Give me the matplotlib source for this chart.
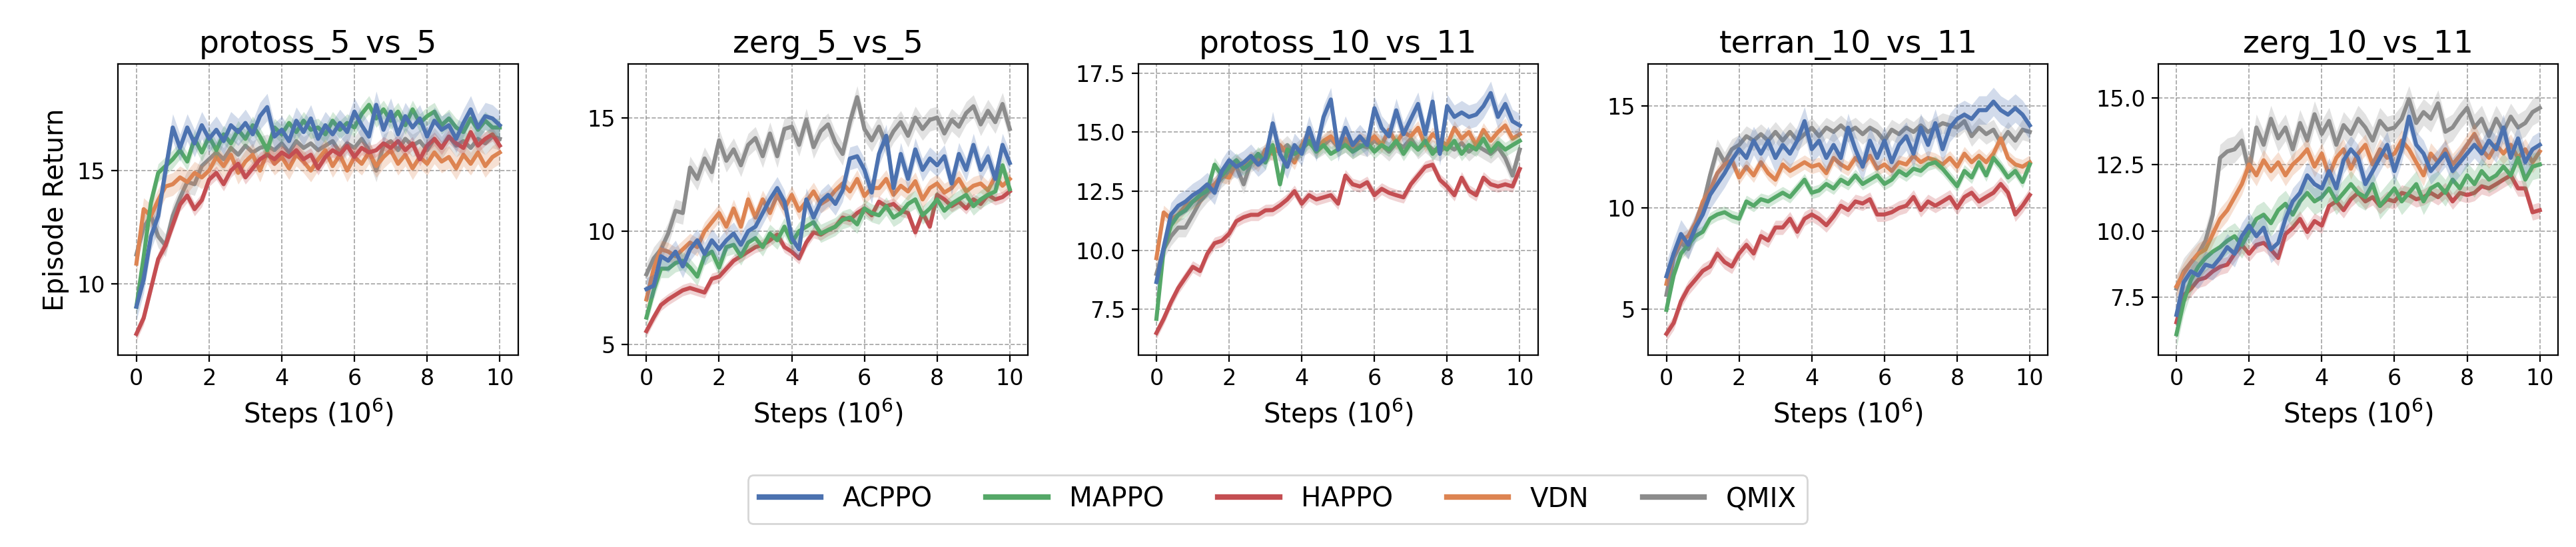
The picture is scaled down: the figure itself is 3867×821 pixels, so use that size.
import matplotlib
matplotlib.use("Agg")
import matplotlib.pyplot as plt
import numpy as np

# steps in units of 1e6, one value every 0.2M
steps = np.linspace(0, 10, 51)

methods = ["ACPPO", "MAPPO", "HAPPO", "VDN", "QMIX"]
colors = ["#4c72b0", "#55a868", "#c44e52", "#dd8452", "#8c8c8c"]
maps = ["protoss_5_vs_5", "zerg_5_vs_5", "protoss_10_vs_11", "terran_10_vs_11", "zerg_10_vs_11"]

# ---- protoss_5_vs_5 ----
p55_acppo = [9.0, 10.2, 12.1, 13.0, 15.0, 16.9, 16.0, 16.9, 16.2, 17.0, 16.4, 16.8, 16.3, 17.0, 16.7, 17.1,
             16.6, 17.4, 17.8, 16.5, 16.8, 16.3, 17.2, 16.7, 17.3, 16.4, 17.0, 16.6, 17.1, 16.7, 17.6, 17.0,
             16.5, 17.9, 16.8, 17.6, 16.6, 17.4, 16.9, 17.3, 16.5, 17.2, 16.8, 17.0, 16.4, 17.1, 17.7, 16.9,
             17.4, 17.3, 17.0]
p55_mappo = [9.0, 11.2, 13.6, 14.9, 15.2, 15.5, 15.9, 15.4, 16.4, 15.8, 16.5, 15.9, 16.6, 16.2, 16.8, 16.4,
             17.0, 16.5, 15.9, 16.9, 16.6, 17.1, 16.7, 17.2, 16.8, 16.9, 16.6, 17.2, 16.8, 17.1, 16.9, 17.5,
             17.9, 17.3, 17.7, 17.2, 17.6, 17.0, 17.7, 17.1, 17.4, 17.6, 17.0, 17.3, 16.9, 16.7, 17.3, 16.8,
             17.2, 16.9, 16.9]
p55_happo = [7.8, 8.5, 9.8, 11.1, 11.7, 12.6, 13.5, 13.9, 13.3, 13.7, 14.6, 14.9, 14.4, 15.0, 15.3, 14.7,
             15.1, 15.5, 15.7, 15.5, 15.8, 15.6, 15.9, 15.5, 15.7, 15.1, 15.6, 15.9, 15.7, 16.1, 15.6, 16.0,
             15.8, 15.9, 16.2, 16.0, 16.3, 15.9, 16.2, 15.5, 16.1, 16.4, 16.0, 16.5, 16.2, 16.0, 16.7, 16.1,
             16.4, 16.6, 16.1]
p55_vdn = [10.9, 13.3, 13.0, 13.7, 14.3, 14.4, 14.7, 14.5, 14.9, 14.7, 15.0, 15.6, 15.2, 15.7, 14.9, 15.4,
           15.7, 15.0, 15.8, 15.3, 15.6, 15.1, 15.7, 15.4, 15.0, 15.5, 15.9, 15.2, 15.7, 15.0, 15.6, 15.3,
           15.8, 15.2, 15.6, 15.9, 15.3, 15.7, 15.1, 15.6, 15.3, 15.8, 15.4, 15.6, 15.1, 15.7, 15.3, 15.8,
           15.2, 15.6, 15.8]
p55_qmix = [11.3, 12.5, 13.0, 12.1, 11.7, 13.0, 13.8, 14.5, 14.4, 15.2, 15.5, 15.8, 15.5, 16.0, 15.7, 16.1,
            15.8, 16.0, 16.1, 15.9, 16.2, 15.8, 16.3, 16.0, 16.2, 15.9, 16.1, 16.3, 15.8, 16.2, 16.0, 16.4,
            15.9, 15.0, 16.1, 16.3, 15.9, 16.4, 16.1, 16.3, 15.9, 16.4, 16.0, 16.5, 16.1, 16.3, 16.0, 16.4,
            16.2, 16.5, 16.4]

# ---- zerg_5_vs_5 ----
z55_acppo = [7.45, 7.6, 8.9, 8.7, 9.1, 8.45, 9.2, 9.6, 9.0, 9.6, 9.2, 9.6, 9.9, 9.4, 10.0, 10.2,
             10.8, 11.4, 11.9, 11.3, 9.7, 9.2, 11.4, 10.6, 11.3, 11.6, 11.2, 11.8, 13.2, 13.3, 12.7, 11.7,
             13.4, 14.2, 11.9, 13.4, 12.3, 13.6, 12.7, 13.2, 12.9, 13.3, 12.1, 13.4, 12.7, 13.8, 12.7, 13.3,
             12.3, 13.8, 13.0]
z55_mappo = [6.2, 7.4, 8.35, 8.35, 8.6, 8.7, 8.4, 8.0, 8.9, 9.1, 8.4, 9.3, 9.4, 8.9, 9.5, 9.7,
             9.3, 9.9, 9.6, 10.2, 9.5, 10.0, 10.2, 10.4, 9.9, 10.05, 10.2, 10.5, 10.6, 10.3, 11.0, 10.8,
             10.7, 11.1, 10.6, 10.8, 11.2, 11.4, 10.7, 11.0, 11.4, 10.9, 11.2, 11.4, 11.6, 11.1, 11.4, 11.6,
             11.75, 12.9, 11.85]
z55_happo = [5.6, 6.2, 6.75, 7.0, 7.2, 7.4, 7.5, 7.4, 7.3, 7.9, 8.0, 8.35, 8.7, 8.9, 9.1, 9.3,
             9.4, 9.6, 9.85, 9.3, 9.1, 8.8, 9.5, 9.95, 9.85, 10.05, 10.2, 10.6, 10.5, 10.8, 11.0, 10.7,
             11.3, 11.1, 11.2, 10.9, 10.8, 9.95, 10.8, 10.2, 11.6, 11.4, 11.1, 11.3, 11.0, 11.4, 11.2, 11.6,
             11.4, 11.5, 11.75]
z55_vdn = [7.0, 8.35, 9.2, 9.1, 8.9, 9.2, 9.5, 9.3, 10.0, 10.4, 10.8, 10.2, 11.0, 10.2, 11.4, 10.6,
           11.4, 10.8, 11.6, 11.0, 11.6, 10.9, 11.3, 11.75, 11.2, 11.4, 11.8, 12.1, 11.75, 12.3, 11.55, 11.9,
           11.9, 12.3, 11.6, 12.0, 11.75, 12.2, 11.4, 11.9, 12.1, 11.7, 11.9, 12.3, 11.75, 12.0, 12.1, 11.8,
           12.4, 12.0, 12.3]
z55_qmix = [8.1, 8.8, 9.2, 9.9, 10.9, 10.8, 12.8, 12.3, 13.2, 12.6, 14.0, 13.1, 13.6, 12.9, 13.8, 14.1,
            13.3, 14.3, 13.3, 14.5, 14.6, 13.8, 14.9, 13.7, 14.4, 14.7, 13.9, 13.4, 14.8, 15.9, 14.5, 14.0,
            14.6, 13.8, 14.4, 14.8, 14.2, 15.0, 14.5, 14.9, 15.0, 14.3, 14.9, 14.6, 15.2, 15.5, 14.7, 15.3,
            14.8, 15.6, 14.5]

# ---- protoss_10_vs_11 ----
p1011_acppo = [8.66, 10.13, 11.51, 11.88, 12.06, 12.33, 12.52, 12.79, 12.43, 13.35, 13.81, 13.53, 13.71, 13.99,
               13.62, 13.90, 15.37, 14.08, 13.53, 14.45, 14.08, 15.18, 14.26, 15.64, 16.38, 14.26, 15.18, 14.45,
               14.82, 14.45, 16.01, 15.18, 14.82, 15.92, 14.91, 15.55, 16.19, 14.91, 16.29, 14.08, 16.10, 15.64,
               15.83, 15.64, 15.74, 16.10, 16.65, 15.64, 16.19, 15.46, 15.28]
p1011_mappo = [7.1, 10.04, 11.05, 11.5, 11.69, 12.06, 12.33, 12.52, 13.62, 13.16, 13.53, 13.81, 13.44, 13.71,
               14.08, 13.71, 14.45, 12.79, 14.26, 14.08, 14.26, 14.63, 14.17, 14.45, 14.08, 14.26, 14.45, 14.17,
               14.36, 14.54, 14.17, 14.45, 14.26, 14.63, 14.08, 14.54, 14.26, 14.63, 14.08, 14.45, 14.26, 14.63,
               14.08, 14.45, 14.26, 14.72, 14.17, 14.54, 14.26, 14.45, 14.63]
p1011_happo = [6.5, 7.1, 7.8, 8.4, 8.85, 9.3, 9.12, 9.85, 10.3, 10.4, 10.7, 11.23, 11.4, 11.5, 11.5, 11.69,
               11.7, 11.9, 12.15, 12.5, 11.97, 12.33, 12.15, 12.24, 12.33, 11.97, 13.16, 12.79, 12.7, 12.88,
               12.33, 12.6, 12.43, 12.33, 12.24, 12.79, 13.16, 13.53, 13.62, 12.98, 12.7, 12.33, 13.07, 12.52,
               12.33, 13.07, 12.79, 12.7, 12.79, 12.7, 13.44]
p1011_vdn = [9.67, 11.6, 11.32, 11.5, 11.88, 12.06, 12.24, 12.6, 12.79, 13.16, 13.07, 13.71, 13.53, 13.9,
             13.62, 14.26, 14.08, 14.45, 14.08, 13.71, 14.45, 14.91, 14.26, 14.63, 14.82, 14.45, 14.72, 14.36,
             14.72, 14.54, 14.82, 14.45, 15.09, 14.54, 15.0, 14.82, 15.18, 14.45, 14.91, 14.63, 14.45, 15.18,
             14.72, 15.0, 14.45, 15.09, 14.63, 15.0, 15.28, 14.72, 14.91]
p1011_qmix = [9.0, 10.04, 10.59, 10.96, 10.96, 11.5, 12.06, 12.43, 12.7, 13.07, 13.35, 13.53, 12.79, 13.71,
              13.9, 14.08, 14.26, 14.17, 14.45, 14.08, 14.36, 14.54, 14.26, 14.45, 14.72, 14.36, 14.54, 14.26,
              14.45, 14.36, 14.63, 14.45, 14.17, 14.54, 14.36, 14.72, 14.26, 14.54, 14.26, 14.17, 14.45, 14.26,
              14.54, 14.17, 14.45, 14.26, 14.08, 14.36, 13.9, 13.16, 14.26]

# ---- terran_10_vs_11 ----
t1011_acppo = [6.62, 7.74, 8.70, 8.17, 9.02, 9.66, 10.62, 11.16, 11.69, 12.33, 12.87, 12.44, 13.29, 12.65,
               13.29, 12.44, 13.08, 12.65, 13.29, 14.25, 12.87, 13.29, 12.44, 13.08, 12.44, 13.93, 12.87, 12.01,
               13.29, 12.44, 13.29, 12.23, 13.08, 13.51, 12.65, 13.93, 13.08, 14.15, 12.87, 13.93, 14.36, 14.57,
               14.36, 14.79, 14.79, 15.21, 14.79, 14.57, 14.89, 14.57, 14.04]
t1011_mappo = [4.97, 6.68, 7.74, 8.17, 8.60, 8.81, 9.45, 9.66, 9.77, 9.56, 9.45, 10.30, 10.09, 10.41, 10.30,
               10.52, 10.73, 10.52, 10.94, 11.37, 10.73, 10.84, 11.16, 10.94, 11.37, 11.16, 11.58, 11.16, 11.37,
               11.58, 11.16, 11.37, 11.80, 11.58, 11.91, 11.80, 12.12, 12.23, 11.91, 11.48, 11.05, 11.80, 11.48,
               12.23, 11.58, 12.44, 12.01, 11.48, 11.80, 11.26, 12.12]
t1011_happo = [3.79, 4.33, 5.39, 6.04, 6.46, 6.89, 7.10, 7.74, 7.32, 7.10, 7.74, 8.17, 7.74, 8.60, 8.38, 9.02,
               9.02, 9.45, 8.81, 9.45, 9.66, 9.45, 9.13, 9.56, 10.09, 9.88, 10.30, 10.20, 10.41, 9.66, 9.66,
               9.77, 9.98, 10.09, 10.52, 9.88, 10.30, 10.09, 10.30, 10.52, 9.98, 10.52, 10.73, 10.30, 10.52,
               10.73, 11.16, 10.73, 9.66, 10.09, 10.62]
t1011_vdn = [6.25, 7.74, 8.38, 8.60, 9.24, 10.30, 10.84, 11.69, 12.12, 12.33, 11.48, 12.01, 11.58, 12.23,
             11.69, 11.37, 12.12, 11.80, 12.01, 12.23, 12.01, 12.12, 11.69, 12.44, 12.12, 11.91, 12.44, 12.12,
             12.55, 11.91, 12.12, 11.80, 12.23, 12.12, 12.55, 12.23, 12.44, 12.33, 12.12, 12.44, 12.01, 12.65,
             12.23, 12.55, 12.23, 12.65, 13.40, 12.44, 12.12, 12.01, 12.23]
t1011_qmix = [5.71, 7.53, 8.28, 7.96, 9.02, 10.09, 11.58, 12.87, 12.23, 12.87, 13.08, 13.51, 13.29, 13.61,
              13.29, 13.72, 13.29, 13.72, 13.29, 13.61, 13.93, 13.51, 13.93, 13.72, 14.04, 13.72, 13.93, 13.61,
              13.93, 13.72, 13.29, 13.83, 13.61, 13.93, 13.72, 14.04, 13.72, 13.93, 14.15, 14.04, 13.93, 14.25,
              13.51, 13.93, 13.61, 13.83, 13.19, 13.72, 13.29, 13.83, 13.72]

# ---- zerg_10_vs_11 ----
z1011_acppo = [6.84, 8.07, 8.48, 8.32, 8.73, 8.65, 8.98, 9.39, 9.14, 9.80, 10.20, 9.80, 10.12, 9.30, 9.55,
               10.45, 11.11, 11.43, 12.09, 11.76, 11.60, 12.25, 11.60, 12.66, 13.07, 12.75, 11.76, 12.25, 12.75,
               13.24, 12.25, 13.07, 14.30, 13.24, 12.91, 12.25, 12.58, 12.91, 12.25, 12.58, 12.91, 13.24, 12.91,
               13.40, 13.07, 13.89, 12.75, 13.48, 12.58, 13.07, 13.24]
z1011_mappo = [6.11, 7.34, 8.16, 8.65, 8.98, 9.22, 9.39, 9.63, 9.80, 9.47, 9.96, 10.45, 10.61, 10.29, 10.78,
               11.02, 10.61, 11.11, 11.43, 11.11, 11.27, 11.60, 11.11, 11.43, 11.76, 11.43, 11.27, 11.76, 10.94,
               11.27, 11.60, 11.11, 11.43, 11.76, 11.11, 11.60, 11.76, 11.43, 11.93, 11.60, 12.09, 11.76, 12.25,
               11.93, 12.09, 12.42, 12.09, 12.75, 11.93, 12.42, 12.50]
z1011_happo = [6.56, 7.58, 7.83, 8.16, 8.24, 8.48, 8.65, 8.73, 9.14, 9.47, 9.14, 9.47, 9.55, 9.30, 8.98, 9.88,
               10.12, 10.45, 9.96, 10.37, 10.20, 10.94, 11.11, 10.78, 11.19, 11.43, 11.11, 11.27, 10.94, 11.19,
               11.11, 11.43, 11.35, 11.19, 11.27, 11.43, 11.27, 11.52, 11.11, 11.43, 11.35, 11.43, 11.68, 11.60,
               11.76, 11.93, 12.09, 11.60, 11.60, 10.70, 10.78]
z1011_vdn = [7.91, 8.40, 8.81, 9.14, 9.30, 9.88, 10.45, 10.78, 11.27, 11.76, 12.50, 12.09, 12.66, 12.25, 12.58,
             12.09, 12.50, 12.75, 13.07, 12.42, 12.91, 12.09, 12.75, 13.07, 12.34, 12.91, 13.24, 12.50, 13.07,
             12.75, 12.91, 13.40, 13.07, 12.58, 12.09, 12.91, 12.58, 13.07, 12.50, 12.83, 13.24, 13.65, 13.07,
             12.75, 13.24, 12.91, 13.24, 12.75, 13.07, 12.58, 12.99]
z1011_qmix = [7.83, 8.48, 8.81, 9.14, 9.63, 10.61, 12.75, 12.99, 13.07, 13.40, 12.25, 13.89, 13.24, 14.22,
              13.48, 13.89, 13.07, 14.06, 13.40, 14.39, 13.65, 14.14, 13.24, 13.98, 13.65, 14.22, 13.89, 13.40,
              14.14, 13.81, 13.89, 14.22, 14.96, 14.06, 14.47, 14.22, 14.80, 13.73, 13.89, 14.30, 14.63, 13.89,
              14.22, 13.57, 14.22, 13.73, 14.30, 13.89, 14.06, 14.47, 14.63]

# half-width of the shaded band, per map, in method order
p55_spread = [0.6, 0.4, 0.3, 0.5, 0.5]
z55_spread = [0.5, 0.4, 0.25, 0.4, 0.5]
p1011_spread = [0.5, 0.3, 0.25, 0.3, 0.4]
t1011_spread = [0.7, 0.3, 0.35, 0.35, 0.5]
z1011_spread = [0.5, 0.5, 0.3, 0.4, 0.5]

panels = [
    ([p55_acppo, p55_mappo, p55_happo, p55_vdn, p55_qmix], p55_spread, (6.87, 19.7), [10, 15]),
    ([z55_acppo, z55_mappo, z55_happo, z55_vdn, z55_qmix], z55_spread, (4.55, 17.36), [5, 10, 15]),
    ([p1011_acppo, p1011_mappo, p1011_happo, p1011_vdn, p1011_qmix], p1011_spread, (5.57, 17.88),
     [7.5, 10.0, 12.5, 15.0, 17.5]),
    ([t1011_acppo, t1011_mappo, t1011_happo, t1011_vdn, t1011_qmix], t1011_spread, (2.75, 17.06), [5, 10, 15]),
    ([z1011_acppo, z1011_mappo, z1011_happo, z1011_vdn, z1011_qmix], z1011_spread, (5.33, 16.28),
     [7.5, 10.0, 12.5, 15.0]),
]
zorders = [5, 4, 3, 2, 1]

fig, axes = plt.subplots(1, 5, figsize=(19.335, 4.105), dpi=200)
fig.subplots_adjust(left=0.0459, right=0.993, bottom=0.351, top=0.883, wspace=0.276)

for ax, title, (series, spread, ylim, yticks) in zip(axes, maps, panels):
    for name, color, vals, sd, z in zip(methods, colors, series, spread, zorders):
        vals = np.array(vals)
        ax.fill_between(steps, vals - sd, vals + sd, color=color, alpha=0.25, lw=0, zorder=z)
        ax.plot(steps, vals, color=color, lw=2.2, label=name, zorder=z + 0.5)
    ax.set_title(title, fontsize=17)
    ax.set_xlabel('Steps ($10^6$)', fontsize=14.5)
    ax.set_xlim(-0.5, 10.5)
    ax.set_xticks([0, 2, 4, 6, 8, 10])
    ax.set_ylim(*ylim)
    ax.set_yticks(yticks)
    ax.tick_params(labelsize=12)
    ax.grid(True, linestyle='--', linewidth=0.6, color='0.55', alpha=0.8)

axes[0].set_ylabel('Episode Return', fontsize=14.5)

handles, labels = axes[0].get_legend_handles_labels()
leg = fig.legend(handles, labels, loc='center', bbox_to_anchor=(0.496, 0.087), ncol=5,
                 fontsize=14.5, handlelength=2.3, columnspacing=2.0)
for line in leg.get_lines():
    line.set_linewidth(3)

fig.savefig('out.png', dpi=200)
